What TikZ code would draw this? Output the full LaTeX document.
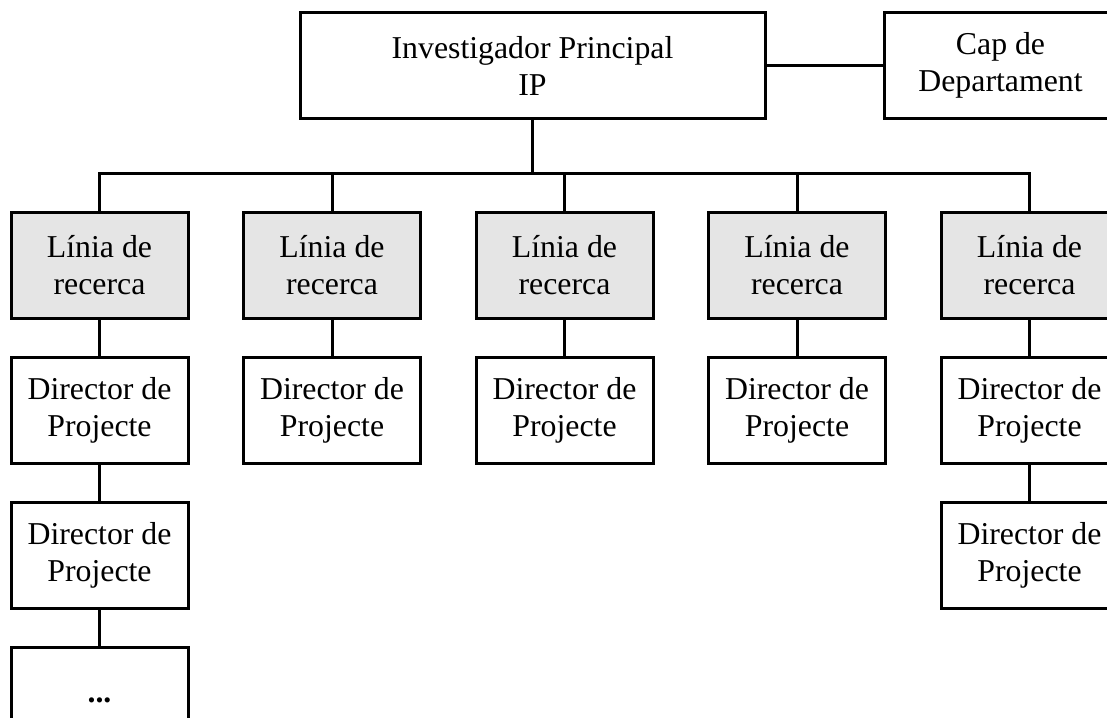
\documentclass[tikz,border=0pt]{standalone}
\usepackage{fontspec}
\setmainfont{Liberation Serif}
\usetikzlibrary{positioning}

\begin{document}
\begin{tikzpicture}
		[x=0.5pt,y=-0.5pt,
		block/.style ={rectangle, draw=black, line width=1.5pt, align=center, inner sep=0pt, minimum width=88.5pt, minimum height=53pt, font=\fontsize{15.9}{18.5}\selectfont},
		linia/.style ={block, fill=black!10},
		line/.style ={draw, line width=1.5pt}]
		\useasboundingbox (0,0) rectangle (1107,717);
		\clip (0,0) rectangle (1107,717);

		\node[block, minimum width=232.5pt] (ip) at (532.5,65.5) {Investigador Principal\\IP};
		\node[block, minimum width=116.5pt] (cap) at (1000.5,65.5) {Cap de\\Departament};

		\foreach \i in {1,...,5} {
			\node[linia] (lin\i) at ({99.5+232.5*(\i-1)},265) {Línia de\\recerca};
			\node[block] (dir\i) at ({99.5+232.5*(\i-1)},410) {Director de\\Projecte};
		}
		\node[block] (dir1b) at (99.5,555) {Director de\\Projecte};
		\node[block] (more) at (99.5,700) {\textbf{...}};
		\node[block] (dir5b) at (1029.5,555) {Director de\\Projecte};

		\coordinate (bus) at (532.5,173);
		\path[line] (ip) -- (cap);
		\path[line] (ip.south) -- (bus);
		\foreach \i in {1,...,5} {
			\path[line] (bus) -| (lin\i.north);
			\path[line] (lin\i) -- (dir\i);
		}
		\path[line]
		(dir1) -- (dir1b)
		(dir1b) -- (more)
		(dir5) -- (dir5b);

	\end{tikzpicture}
\end{document}
